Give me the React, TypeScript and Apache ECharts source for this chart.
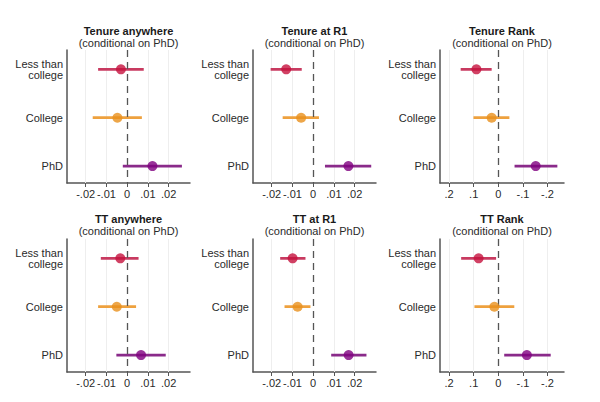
import React, { useEffect, useRef } from "react";
import * as echarts from "echarts";

// ---- data ----
const categories = ["Less than\ncollege", "College", "PhD"];
const rowPos = [1, 2, 3];
const panelTitles = ["Tenure anywhere", "Tenure at R1", "Tenure Rank", "TT anywhere", "TT at R1", "TT Rank"];
const subtitle = "(conditional on PhD)";
const shareTicks = [-0.02, -0.01, 0, 0.01, 0.02];
const rankTicks = [0.2, 0.1, 0, -0.1, -0.2];

// estimates and 95% CI bounds per category [Less than college, College, PhD]
const tenureAnyEst = [-0.003, -0.0047, 0.0122];
const tenureAnyLo = [-0.014, -0.0166, -0.0021];
const tenureAnyHi = [0.008, 0.0071, 0.0264];

const tenureR1Est = [-0.013, -0.0058, 0.017];
const tenureR1Lo = [-0.0205, -0.0147, 0.0057];
const tenureR1Hi = [-0.0055, 0.0028, 0.028];

const tenureRankEst = [0.089, 0.027, -0.152];
const tenureRankLo = [0.027, -0.045, -0.24];
const tenureRankHi = [0.153, 0.101, -0.066];

const ttAnyEst = [-0.0033, -0.005, 0.0067];
const ttAnyLo = [-0.0127, -0.014, -0.0052];
const ttAnyHi = [0.0055, 0.0043, 0.0186];

const ttR1Est = [-0.0099, -0.0075, 0.0171];
const ttR1Lo = [-0.0159, -0.0138, 0.0087];
const ttR1Hi = [-0.0037, -0.0013, 0.0257];

const ttRankEst = [0.08, 0.016, -0.116];
const ttRankLo = [0.009, -0.065, -0.213];
const ttRankHi = [0.151, 0.097, -0.024];

const panels = [
  { est: tenureAnyEst, lo: tenureAnyLo, hi: tenureAnyHi, rank: false },
  { est: tenureR1Est, lo: tenureR1Lo, hi: tenureR1Hi, rank: false },
  { est: tenureRankEst, lo: tenureRankLo, hi: tenureRankHi, rank: true },
  { est: ttAnyEst, lo: ttAnyLo, hi: ttAnyHi, rank: false },
  { est: ttR1Est, lo: ttR1Lo, hi: ttR1Hi, rank: false },
  { est: ttRankEst, lo: ttRankLo, hi: ttRankHi, rank: true },
];

// ---- styles ----
const pointColors = ["#c5123d", "#e8901c", "#800080"];
const lineColors = ["#c83a60", "#eea13e", "#8a2a8a"];
const gridLefts = [67, 253, 440];
const gridWidths = [123, 123, 124];
const gridTops = [50, 239];
const gridHeight = 133;
const titleTops = [25, 213];
const FONT = "'Liberation Sans', Arial, sans-serif";

function fmtTick(v: number) {
  if (Math.abs(v) < 1e-12) return "0";
  const s = String(Math.abs(+v.toFixed(4))).replace(/^0/, "");
  return (v < 0 ? "-" : "") + s;
}

export default function App() {
  const ref = useRef<HTMLDivElement>(null);
  useEffect(() => {
    if (!ref.current) return;
    const chart = echarts.init(ref.current, undefined, { renderer: "svg" });
    const grid: any[] = [];
    const xAxis: any[] = [];
    const yAxis: any[] = [];
    const title: any[] = [];
    const series: any[] = [];
    panels.forEach((p, i) => {
      const col = i % 3;
      const row = Math.floor(i / 3);
      const left = gridLefts[col];
      const width = gridWidths[col];
      grid.push({ left, top: gridTops[row], width, height: gridHeight, containLabel: false });
      title.push({
        text: panelTitles[i],
        subtext: subtitle,
        left: left + width / 2,
        top: titleTops[row],
        textAlign: "center",
        padding: 0,
        itemGap: 0,
        textStyle: { fontFamily: FONT, fontSize: 11, fontWeight: "bold", color: "#1a1a1a", lineHeight: 12 },
        subtextStyle: { fontFamily: FONT, fontSize: 11, color: "#2a2a2a", lineHeight: 12 },
      });
      const ticks = p.rank ? rankTicks : shareTicks;
      xAxis.push({
        type: "value",
        gridIndex: i,
        min: p.rank ? -0.267 : -0.029,
        max: p.rank ? 0.237 : 0.0303,
        inverse: p.rank,
        axisLine: { show: true, onZero: false, lineStyle: { color: "#555", width: 1.5 } },
        axisTick: { show: true, customValues: ticks, length: 4, lineStyle: { color: "#555", width: 1 } },
        axisLabel: {
          customValues: ticks,
          formatter: (v: number) => fmtTick(v),
          fontFamily: FONT,
          fontSize: 11,
          color: "#2a2a2a",
          margin: 5,
        },
        splitLine: { show: false },
      });
      yAxis.push({
        type: "value",
        gridIndex: i,
        min: 0.6,
        max: 3.35,
        inverse: true,
        axisLine: { show: true, onZero: false, lineStyle: { color: "#555", width: 1.5 } },
        axisTick: { show: false },
        axisLabel: {
          customValues: rowPos,
          formatter: (v: number) => categories[Math.round(v) - 1] || "",
          fontFamily: FONT,
          fontSize: 11,
          lineHeight: 11,
          color: "#2a2a2a",
          margin: 4,
          align: "right",
        },
        splitLine: { show: false },
      });
      // faint vertical grid lines (behind everything)
      series.push({
        type: "scatter",
        xAxisIndex: i,
        yAxisIndex: i,
        data: [],
        z: 1,
        silent: true,
        markLine: {
          z: 1,
          silent: true,
          symbol: "none",
          label: { show: false },
          lineStyle: { color: "#eeeeee", width: 1, type: "solid" },
          data: ticks.filter((t) => t !== 0).map((t) => ({ xAxis: t })),
        },
      });
      // CI lines
      rowPos.forEach((r, k) => {
        series.push({
          type: "line",
          xAxisIndex: i,
          yAxisIndex: i,
          data: [
            [p.lo[k], r],
            [p.hi[k], r],
          ],
          showSymbol: false,
          symbol: "none",
          silent: true,
          lineStyle: { color: lineColors[k], width: 2.8 },
          z: 3,
        });
      });
      // zero reference line
      series.push({
        type: "scatter",
        xAxisIndex: i,
        yAxisIndex: i,
        data: [],
        z: 3.5,
        silent: true,
        markLine: {
          z: 3.5,
          silent: true,
          symbol: "none",
          label: { show: false },
          lineStyle: { color: "#555", width: 1.3, type: [7, 5] },
          data: [{ xAxis: 0 }],
        },
      });
      // point estimates
      series.push({
        type: "scatter",
        xAxisIndex: i,
        yAxisIndex: i,
        symbol: "circle",
        symbolSize: 10,
        data: rowPos.map((r, k) => ({ value: [p.est[k], r], itemStyle: { color: pointColors[k] } })),
        z: 4,
      });
    });
    chart.setOption({
      animation: false,
      backgroundColor: "#ffffff",
      title,
      grid,
      xAxis,
      yAxis,
      series,
    });
    return () => chart.dispose();
  }, []);
  return (
    <div
      ref={ref}
      style={{ position: "fixed", left: 0, top: 0, width: 600, height: 402, background: "#fff" }}
    />
  );
}
